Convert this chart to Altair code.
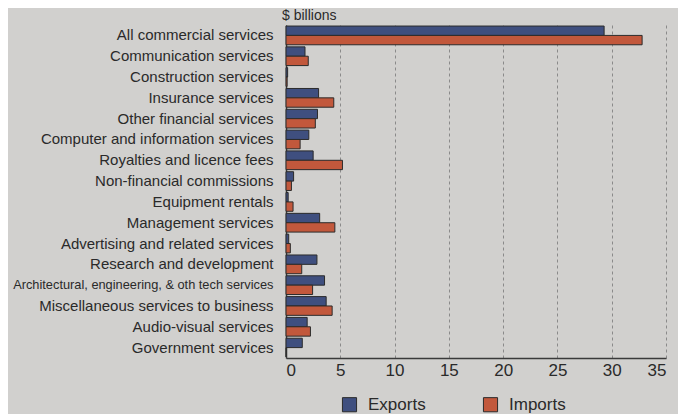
import altair as alt
import pandas as pd

categories = [
    "All commercial services",
    "Communication services",
    "Construction services",
    "Insurance services",
    "Other financial services",
    "Computer and information services",
    "Royalties and licence fees",
    "Non-financial commissions",
    "Equipment rentals",
    "Management services",
    "Advertising and related services",
    "Research and development",
    "Architectural, engineering, & oth tech services",
    "Miscellaneous services to business",
    "Audio-visual services",
    "Government services",
]
exports = [29.3, 1.75, 0.15, 3.0, 2.9, 2.1, 2.5, 0.7, 0.2, 3.1, 0.25, 2.85, 3.55, 3.7, 1.95, 1.5]
imports = [32.8, 2.05, 0.1, 4.4, 2.7, 1.3, 5.2, 0.5, 0.65, 4.5, 0.4, 1.45, 2.45, 4.25, 2.25, 0.0]
series = ["Exports", "Imports"]
colors = ["#3f4f7f", "#c2583c"]

rows = []
for c, e, i in zip(categories, exports, imports):
    rows.append({"category": c, "series": "Exports", "value": e})
    rows.append({"category": c, "series": "Imports", "value": i})
df = pd.DataFrame(rows)

long_label = categories[12]

chart = alt.Chart(df).mark_bar(stroke="#2b2b2b", strokeWidth=1).encode(
    x=alt.X("value:Q",
            scale=alt.Scale(domain=[0, 35], nice=False),
            axis=alt.Axis(title=None, values=[0, 5, 10, 15, 20, 25, 30, 35],
                          grid=True, gridDash=[3, 3], gridColor="#8a8a8a", gridWidth=1,
                          domainColor="#3a3a3a", domainWidth=1.5, ticks=False,
                          labelFontSize=17, labelColor="#2a2a2a", labelPadding=4,
                          labelFont="Liberation Sans")),
    y=alt.Y("category:N", sort=categories,
            scale=alt.Scale(paddingInner=0.1, paddingOuter=0.05),
            axis=alt.Axis(title=None, ticks=False, grid=False,
                          domainColor="#3a3a3a", domainWidth=1.5,
                          labelFont="Liberation Sans", labelColor="#2a2a2a",
                          labelFontSize={"condition": {"test": f"datum.value == '{long_label}'", "value": 12.8}, "value": 15},
                          labelPadding=13, labelLimit=300)),
    yOffset=alt.YOffset("series:N", sort=series),
    color=alt.Color("series:N", sort=series,
                    scale=alt.Scale(domain=series, range=colors),
                    legend=alt.Legend(title=None, orient="none", direction="horizontal",
                                      legendX=55, legendY=371,
                                      symbolType="square", symbolSize=200,
                                      symbolStrokeColor="#2b2b2b", symbolStrokeWidth=1,
                                      labelFontSize=17, labelColor="#2a2a2a",
                                      labelFont="Liberation Sans", columnPadding=55,
                                      labelOffset=10)),
).properties(
    width=380,
    height=333,
    title=alt.TitleParams("$ billions", anchor="start", frame="group", fontSize=14,
                          fontWeight="normal", font="Liberation Sans", color="#2a2a2a",
                          offset=2, dx=-4),
    autosize=alt.AutoSizeParams(type="none"),
    padding={"left": 278, "top": 17, "right": 12, "bottom": 56},
    background="#d1d0ce",
).configure_view(stroke=None)

chart.save("out.html", embed_options={"renderer": "svg", "actions": False})
